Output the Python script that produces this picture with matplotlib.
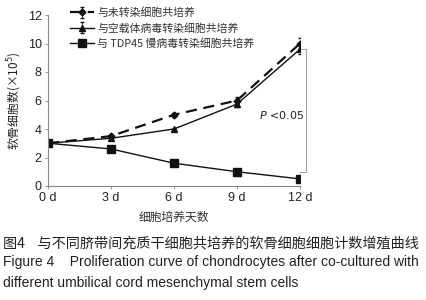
import matplotlib
matplotlib.use("Agg")
import matplotlib.pyplot as plt

plt.rcParams['font.family'] = ['Noto Sans CJK SC', 'DejaVu Sans']

days = [0, 3, 6, 9, 12]
day_labels = ["0 d", "3 d", "6 d", "9 d", "12 d"]
s_untrans = [3.0, 3.5, 5.0, 6.0, 10.0]
s_untrans_err = [0, 0, 0.15, 0.25, 0.4]
s_empty = [3.0, 3.35, 4.0, 5.75, 9.6]
s_empty_err = [0, 0, 0, 0.2, 0.35]
s_tdp = [3.0, 2.6, 1.6, 1.0, 0.5]
names = ["与未转染细胞共培养", "与空载体病毒转染细胞共培养", "与 TDP45 慢病毒转染细胞共培养"]

fig = plt.figure(figsize=(4.27, 3.0), dpi=100)
ax = fig.add_axes([48/427, 1-186/300, 252/427, 171/300])

c = '#111111'
h1 = ax.errorbar(days, s_untrans, yerr=s_untrans_err, color=c, lw=1.6, ls=(0, (5, 3)),
                 marker='D', ms=3.5, capsize=1.5, elinewidth=0.6)
h2 = ax.errorbar(days, s_empty, yerr=s_empty_err, color=c, lw=1.0, marker='^', ms=4.5,
                 capsize=1.5, elinewidth=0.6)
h3, = ax.plot(days, s_tdp, color=c, lw=1.0, marker='s', ms=5.5)

ax.set_xlim(0, 12)
ax.set_ylim(0, 12)
ax.set_xticks(days)
ax.set_xticklabels(day_labels)
ax.set_yticks([0, 2, 4, 6, 8, 10, 12])
for s in ['top', 'right']:
    ax.spines[s].set_visible(False)
for s in ['left', 'bottom']:
    ax.spines[s].set_color('#888888')
    ax.spines[s].set_linewidth(0.8)
    ax.spines[s].set_clip_on(False)
ax.tick_params(axis='both', labelsize=9, color='#888888', length=2.5, width=0.6, pad=2,
               labelcolor='#222222')
for lab in ax.get_xticklabels() + ax.get_yticklabels():
    lab.set_family(['Liberation Sans'])

# significance bracket
ax.plot([12, 12.3, 12.3, 12], [9.6, 9.6, 1.0, 1.0], color='#999999', lw=0.7, clip_on=False)
ax.text(12.2, 5.0, r"$\it{P}$ <0.05", ha='right', va='center', fontsize=8,
        family=['DejaVu Sans'], color='#222222')

ax.set_ylabel("软骨细胞数(×10$^5$)", fontsize=8.5, labelpad=3, color='#222222')
ax.set_xlabel("细胞培养天数", fontsize=8.5, labelpad=5, color='#333333')

leg = ax.legend([h1, h2, h3], names, loc='upper left', bbox_to_anchor=(0.07, 1.07),
                frameon=False, fontsize=7.8, handlelength=2.2, handletextpad=0.3,
                labelspacing=0.45, borderaxespad=0)
for t in leg.get_texts():
    t.set_color('#333333')

fig.text(3/427, 1-243/300, "图4    与不同脐带间充质干细胞共培养的软骨细胞细胞计数增殖曲线",
         fontsize=10.2, va='center', ha='left', color='#222222')
fig.text(3/427, 1-262/300, "Figure 4    Proliferation curve of chondrocytes after co-cultured with",
         fontsize=10, va='center', ha='left', family=['Liberation Sans'], color='#222222')
fig.text(3/427, 1-283/300, "different umbilical cord mesenchymal stem cells",
         fontsize=10, va='center', ha='left', family=['Liberation Sans'], color='#222222')

fig.savefig("out.png", dpi=100)
